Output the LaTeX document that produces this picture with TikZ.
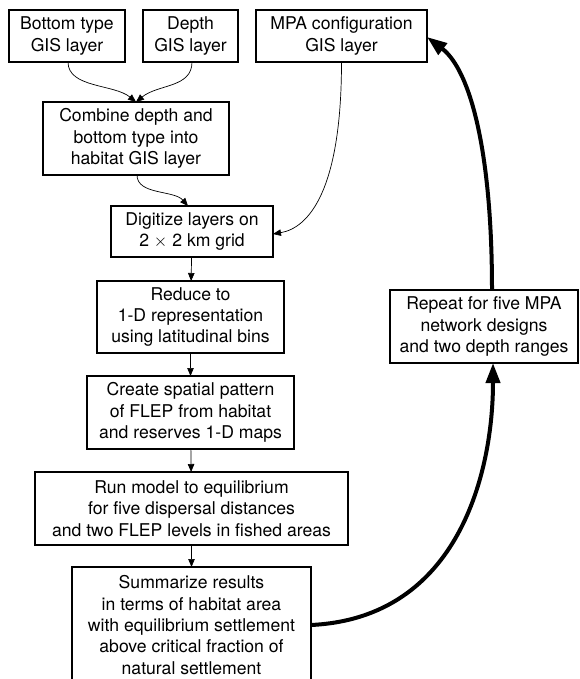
\documentclass[tikz,border=0pt]{standalone}
\usepackage{fontspec}
\setmainfont{TeX Gyre Heros}
\usetikzlibrary{arrows.meta}
\begin{document}
\begin{tikzpicture}[x=1pt,y=-1pt,
  box/.style={draw,line width=1.3pt,inner sep=0pt,outer sep=0pt,align=center,
    font=\fontsize{17.6}{21.3}\selectfont},
  thin/.style={line width=0.7pt,-{Triangle[length=8pt,width=6.5pt]}},
  thick/.style={line width=4pt,-{Triangle[length=20pt,width=14pt]}}]
\useasboundingbox (0,0) rectangle (579,679);
\clip (0,0) rectangle (579,679);
\node[box,minimum width=116pt,minimum height=52pt] (b1) at (67,36) {Bottom type\\GIS layer};
\node[box,minimum width=95pt,minimum height=52pt] (b2) at (190.5,36) {Depth\\GIS layer};
\node[box,minimum width=171pt,minimum height=52pt] (b3) at (341.5,36) {MPA configuration\\GIS layer};
\node[box,minimum width=186pt,minimum height=73pt] (b4) at (136,138.5) {Combine depth and\\bottom type into\\habitat GIS layer};
\node[box,minimum width=162pt,minimum height=51pt] (b5) at (192,231.5) {Digitize layers on\\2 $\times$ 2 km grid};
\node[box,minimum width=187pt,minimum height=72pt] (b6) at (190.5,317) {Reduce to\\1-D representation\\using latitudinal bins};
\node[box,minimum width=207pt,minimum height=73pt] (b7) at (190.5,412.5) {Create spatial pattern\\of FLEP from habitat\\and reserves 1-D maps};
\node[box,minimum width=313pt,minimum height=73pt] (b8) at (191.5,508.5) {Run model to equilibrium\\for five dispersal distances\\and two FLEP levels in fished areas};
\node[box,minimum width=239pt,minimum height=116pt] (b9) at (191.5,625) {Summarize results\\in terms of habitat area\\with equilibrium settlement\\above critical fraction of\\natural settlement};
\node[box,minimum width=188pt,minimum height=73pt] (b10) at (484,326.5) {Repeat for five MPA\\network designs\\and two depth ranges};
\coordinate (b1s) at ([xshift=1pt]b1.south);
\coordinate (b2s) at ([xshift=1.5pt]b2.south);
\coordinate (b4s) at ([xshift=1pt]b4.south);
\coordinate (b5n) at ([xshift=-4pt]b5.north);
\coordinate (b5e) at ([yshift=-2.5pt]b5.east);
\coordinate (b3s) at (b3.south);
\coordinate (b10s) at ([xshift=9pt]b10.south);
\coordinate (b10n) at ([xshift=8pt]b10.north);
\coordinate (b3e) at ([yshift=-1pt]b3.east);
\draw[thin] (b1s) .. controls +(0,26) and +(-22,-18) .. (b4.north);
\draw[thin] (b2s) .. controls +(0,26) and +(22,-18) .. (b4.north);
\draw[thin] (b4s) .. controls +(0,20) and +(-14,-16) .. (b5n);
\draw[thin] (b3s) .. controls +(0,130) and +(35,-6) .. (b5e);
\draw[thin] (b5) -- (b6);
\draw[thin] (b6) -- (b7);
\draw[thin] (b7) -- (b8);
\draw[thin] (b8) -- (b9);
\draw[thick] (b9.east) .. controls (460,618) and (493,470) .. (b10s);
\draw[thick] (b10n) .. controls (492,150) and (470,70) .. (b3e);
\end{tikzpicture}
\end{document}
